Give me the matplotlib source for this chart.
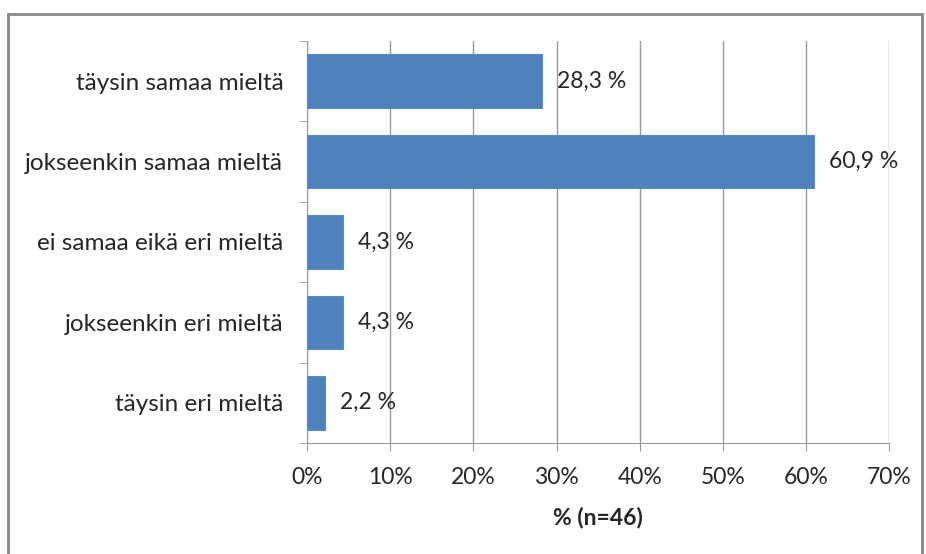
import matplotlib.pyplot as plt
from matplotlib.patches import Rectangle

categories = ["täysin samaa mieltä", "jokseenkin samaa mieltä", "ei samaa eikä eri mieltä",
              "jokseenkin eri mieltä", "täysin eri mieltä"]
values = [28.3, 60.9, 4.3, 4.3, 2.2]
xticks = [0, 10, 20, 30, 40, 50, 60, 70]
xlabel = "% (n=46)"

plt.rcParams['font.family'] = ['Lato', 'DejaVu Sans']
text_color = '#262626'
grid_color = '#9a9a9a'

fig = plt.figure(figsize=(9.26, 5.54), dpi=100)
ax = fig.add_axes([0.3315, 0.2004, 0.6289, 0.7256])

# outer chart frame
fig.patches.append(Rectangle((7.5 / 926, -0.05), (921.5 - 7.5) / 926, 1.05 - 13.5 / 554,
                             transform=fig.transFigure, fill=False,
                             edgecolor='#888888', linewidth=2))

pos = list(range(len(categories)))
ax.barh(pos, values, height=0.667, color='#4f81bd', edgecolor='#5b8bc6', linewidth=0.8, zorder=3)
for p, v in zip(pos, values):
    ax.text(v + 1.8, p, f"{v:.1f} %".replace('.', ','), va='center', ha='left',
            fontsize=16.5, color=text_color)

ax.set_ylim(len(categories) - 0.5, -0.5)
ax.set_xlim(0, 70)
ax.set_xticks(xticks)
ax.set_xticklabels([f"{t}%" for t in xticks], fontsize=16.5, color=text_color)
ax.set_yticks(pos)
ax.set_yticklabels(categories, fontsize=17.5, color=text_color)
ax.tick_params(axis='y', length=0, pad=17)
ax.tick_params(axis='x', length=6, color=grid_color, pad=11)

# category boundary ticks on the y axis
ax.set_yticks([i - 0.5 for i in range(len(categories) + 1)], minor=True)
ax.tick_params(axis='y', which='minor', length=6, color=grid_color)

ax.grid(axis='x', color=grid_color, linewidth=1, zorder=0)
for s in ['top', 'right']:
    ax.spines[s].set_visible(False)
ax.spines['left'].set_color(grid_color)
ax.spines['bottom'].set_color(grid_color)

ax.set_xlabel(xlabel, fontsize=16.5, fontweight='bold', color=text_color, labelpad=14)

fig.savefig("out.png", dpi=100, facecolor='white')
